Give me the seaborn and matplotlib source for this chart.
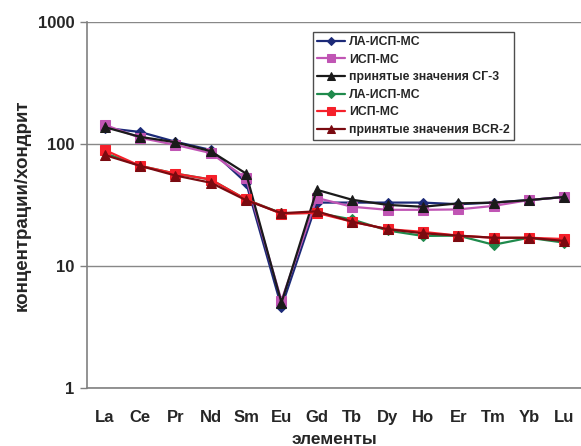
import matplotlib
matplotlib.use("Agg")
import matplotlib.pyplot as plt
import seaborn as sns
import pandas as pd
import numpy as np

elements = ["La", "Ce", "Pr", "Nd", "Sm", "Eu", "Gd", "Tb", "Dy", "Ho", "Er", "Tm", "Yb", "Lu"]

sg3_la = [135, 125, 104, 89, 48, 4.6, 33, 33, 33, 33, 32, 33, 34.6, 36.7]
sg3_icp = [143, 112, 98, 84, 52, 5.2, 36, 30.5, 28.8, 28.8, 29, 31, 34.6, 36.7]
sg3_ref = [137, 114, 103, 87, 57, 5.0, 42, 34.8, 31.6, 30.5, 32.5, 33, 34.6, 36.7]
bcr_la = [84, 66, 57, 51, 35, 27, 27.2, 24, 19.5, 17.6, 17.7, 14.9, 17, 15.5]
bcr_icp = [89, 66, 57, 51, 35, 26.7, 27.2, 23, 20, 19, 17.7, 17, 17, 16.6]
bcr_ref = [81, 66, 55, 48, 34.5, 27, 28, 23, 20, 18.5, 17.7, 17, 17, 16]

labels = ["ЛА-ИСП-МС", "ИСП-МС", "принятые значения СГ-3",
          "ЛА-ИСП-МС", "ИСП-МС", "принятые значения BCR-2"]
series = [sg3_la, sg3_icp, sg3_ref, bcr_la, bcr_icp, bcr_ref]
colors = ["#1c2a78", "#c055b4", "#1a1a1a", "#1f8a4c", "#f5202a", "#7a0a10"]
markers = ["D", "s", "^", "D", "s", "^"]
msizes = [5, 7, 7.5, 5, 7, 7.5]

sns.set_style("white")
plt.rcParams['font.family'] = ['Liberation Sans', 'DejaVu Sans']
plt.rcParams['font.weight'] = 'bold'

fig = plt.figure(figsize=(5.81, 4.46), dpi=100)
ax = fig.add_axes([87/581, (446-388)/446, (582-87)/581, (388-21.7)/446])

for i, (vals, lab, c, m, ms) in enumerate(zip(series, labels, colors, markers, msizes)):
    df = pd.DataFrame({"x": np.arange(len(elements)), "y": vals})
    sns.lineplot(data=df, x="x", y="y", ax=ax, color=c, marker=m, markersize=ms,
                 markeredgecolor=c, linewidth=1.6, label=lab, sort=False, zorder=3 + i)

ax.set_yscale("log")
ax.set_ylim(1, 1000)
ax.set_xlim(-0.5, 13.5)
ax.yaxis.grid(True, which="major", color="#888888", linewidth=1.0)
ax.xaxis.grid(False)
ax.set_yticks([1, 10, 100, 1000])
ax.set_yticklabels(["1", "10", "100", "1000"])
ax.yaxis.set_minor_locator(matplotlib.ticker.NullLocator())
ax.set_xticks(np.arange(len(elements)))
ax.set_xticklabels(elements)
ax.set_xticks(np.arange(-0.5, 13.5, 1), minor=True)
ax.tick_params(axis="x", which="major", length=0, pad=16, labelsize=12)
ax.tick_params(axis="x", which="minor", length=4, width=1, color="#808080", direction="out")
ax.tick_params(axis="y", which="major", length=5, width=1, color="#808080", labelsize=12, pad=4, left=True)
for t in ax.get_xticklabels() + ax.get_yticklabels():
    t.set_fontweight("bold")

for s in ["top", "right"]:
    ax.spines[s].set_visible(False)
for s in ["left", "bottom"]:
    ax.spines[s].set_color("#808080")
    ax.spines[s].set_linewidth(1.2)

ax.set_xlabel("элементы", fontsize=12.5, fontweight="bold", labelpad=5)
ax.set_ylabel("концентрации/хондрит", fontsize=13.5, fontweight="bold", labelpad=5)

leg = ax.legend(loc="upper left", bbox_to_anchor=((313-87)/495, (388-32)/366.3),
                fontsize=8.8, frameon=True, fancybox=False, edgecolor="#202020",
                handlelength=2.3, handletextpad=0.3, labelspacing=0.45,
                borderpad=0.35, borderaxespad=0, markerscale=0.85)
leg.get_frame().set_linewidth(1.0)
for t in leg.get_texts():
    t.set_fontweight("bold")

fig.savefig("out.png", dpi=100, facecolor="white")
